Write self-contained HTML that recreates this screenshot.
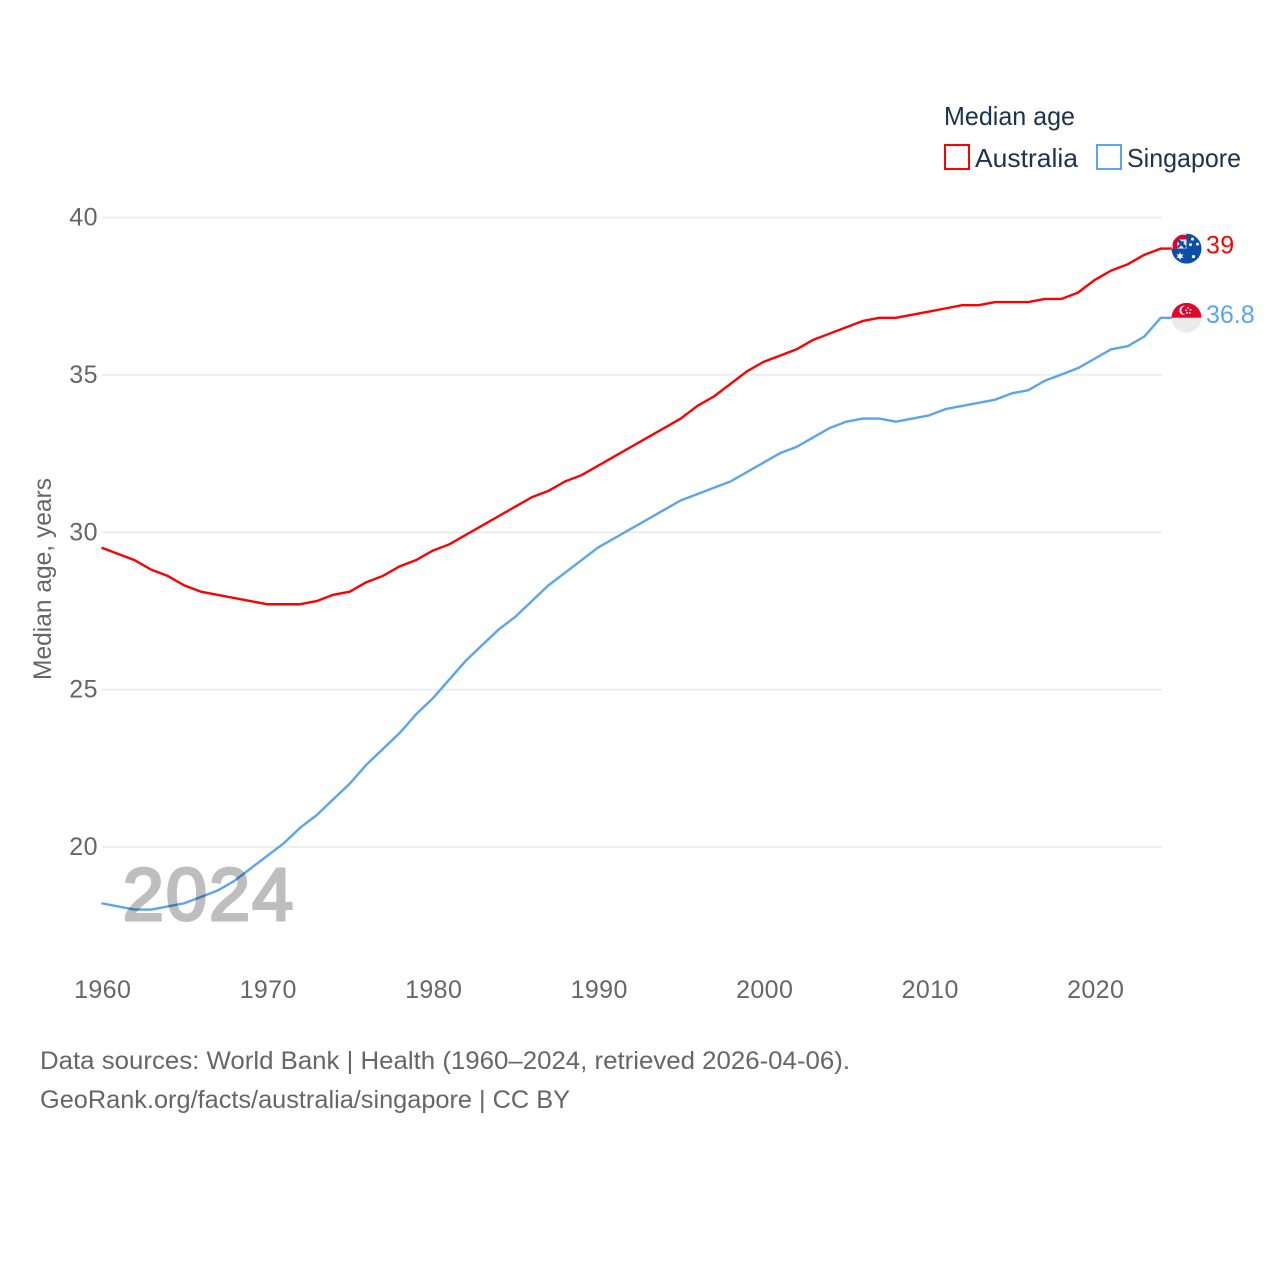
<!DOCTYPE html>
<html lang="en">
<head>
<meta charset="utf-8">
<title>Median age: Australia and Singapore</title>
<style>
html,body{margin:0;padding:0;background:#fff;width:1280px;height:1280px;overflow:hidden}
svg{display:block}
text{font-family:"Liberation Sans",sans-serif}
</style>
</head>
<body>
<svg id="chart" xmlns="http://www.w3.org/2000/svg" width="1280" height="1280" viewBox="0 0 1280 1280">
  <defs>
    <clipPath id="flag-clip"><circle cx="0" cy="0" r="15"/></clipPath>
  </defs>
  <rect width="1280" height="1280" fill="#fff"/>
  <g id="grid"></g>
  <g id="y-ticks"></g>
  <g id="x-ticks"></g>
  <g id="series"></g>
  <text x="209" y="920" text-anchor="middle" font-size="74" letter-spacing="2" fill="#000" stroke="#000" stroke-width="3" opacity="0.25">2024</text>
  <text transform="translate(51 680) rotate(-90)" font-size="25" fill="#666" textLength="202" lengthAdjust="spacingAndGlyphs">Median age, years</text>

  <text x="944" y="125" font-size="26" fill="#1b3250" textLength="131" lengthAdjust="spacingAndGlyphs">Median age</text>
  <g>
    <rect x="945" y="145" width="24" height="24" fill="none" stroke="#ff0000" stroke-width="2"/>
    <text x="975" y="167" font-size="26" fill="#1b3250" textLength="103" lengthAdjust="spacingAndGlyphs">Australia</text>
  </g>
  <g>
    <rect x="1097" y="145" width="24" height="24" fill="none" stroke="#5ba4ee" stroke-width="2"/>
    <text x="1127" y="167" font-size="26" fill="#1b3250" textLength="114" lengthAdjust="spacingAndGlyphs">Singapore</text>
  </g>

  <g id="flag-au">
    <g clip-path="url(#flag-clip)">
      <rect x="-15" y="-15" width="30" height="30" fill="#0b4ea8"/>
      <rect x="-15" y="-15" width="15" height="15" fill="#f0dfe4"/>
      <path d="M-10,-10L-1,-1" stroke="#0b4ea8" stroke-width="3"/>
      <path d="M-9,-1L-3,-7" stroke="#0b4ea8" stroke-width="2"/>
      <path d="M-15,-11.5H0M-11.5,-15V0" stroke="#e4002b" stroke-width="4.5"/>
      <path d="M-6.5,3.5L-5.5,6L-3,5.5L-4.5,7.5L-3,9.5L-5.5,9L-6.5,11.5L-7.5,9L-10,9.5L-8.5,7.5L-10,5.5L-7.5,6Z" fill="#fff"/>
      <circle cx="6" cy="-9.5" r="1.5" fill="#fff"/>
      <circle cx="11" cy="-4.5" r="1.5" fill="#fff"/>
      <circle cx="4" cy="-4" r="1.5" fill="#fff"/>
      <circle cx="7" cy="8" r="1.6" fill="#fff"/>
    </g>
  </g>
  <g id="flag-sg">
    <g clip-path="url(#flag-clip)">
      <rect x="-15" y="-15" width="30" height="15" fill="#e2062c"/>
      <rect x="-15" y="0" width="30" height="15" fill="#ececec"/>
      <circle cx="-2.5" cy="-7.5" r="4.6" fill="#fff"/>
      <circle cx="-0.8" cy="-7.5" r="4.4" fill="#e2062c"/>
      <circle cx="1.5" cy="-10" r=".9" fill="#fff"/>
      <circle cx="4" cy="-8" r=".9" fill="#fff"/>
      <circle cx="-0.5" cy="-7.5" r=".9" fill="#fff"/>
      <circle cx="0.5" cy="-5" r=".9" fill="#fff"/>
      <circle cx="3.2" cy="-5" r=".9" fill="#fff"/>
    </g>
  </g>

  <text x="40" y="1069" font-size="25" fill="#666" textLength="810" lengthAdjust="spacingAndGlyphs">Data sources: World Bank | Health (1960–2024, retrieved 2026-04-06).</text>
  <a><text x="40" y="1108" font-size="25" fill="#666" textLength="530" lengthAdjust="spacingAndGlyphs">GeoRank.org/facts/australia/singapore | CC BY</text></a>
</svg>
<script>
const startYear = 1960;
const xTickLabels = [1960, 1970, 1980, 1990, 2000, 2010, 2020];
const yTickLabels = [20, 25, 30, 35, 40];
const australiaValues = [29.5,29.3,29.1,28.8,28.6,28.3,28.1,28.0,27.9,27.8,27.7,27.7,27.7,27.8,28.0,28.1,28.4,28.6,28.9,29.1,29.4,29.6,29.9,30.2,30.5,30.8,31.1,31.3,31.6,31.8,32.1,32.4,32.7,33.0,33.3,33.6,34.0,34.3,34.7,35.1,35.4,35.6,35.8,36.1,36.3,36.5,36.7,36.8,36.8,36.9,37.0,37.1,37.2,37.2,37.3,37.3,37.3,37.4,37.4,37.6,38.0,38.3,38.5,38.8,39.0];
const singaporeValues = [18.2,18.1,18.0,18.0,18.1,18.2,18.4,18.6,18.9,19.3,19.7,20.1,20.6,21.0,21.5,22.0,22.6,23.1,23.6,24.2,24.7,25.3,25.9,26.4,26.9,27.3,27.8,28.3,28.7,29.1,29.5,29.8,30.1,30.4,30.7,31.0,31.2,31.4,31.6,31.9,32.2,32.5,32.7,33.0,33.3,33.5,33.6,33.6,33.5,33.6,33.7,33.9,34.0,34.1,34.2,34.4,34.5,34.8,35.0,35.2,35.5,35.8,35.9,36.2,36.8];

const NS = 'http://www.w3.org/2000/svg';
const xScale = year => 101.5 + (year - 1960) * 16.55;
const yScale = value => 846.6 - (value - 20) * (847 - 217.5) / 20;
const gridY = value => 847 - (value - 20) * (847 - 217.5) / 20;

function make(tag, attrs, parent, text) {
  const el = document.createElementNS(NS, tag);
  Object.keys(attrs).forEach(k => el.setAttribute(k, attrs[k]));
  if (text !== undefined) el.textContent = text;
  parent.appendChild(el);
  return el;
}

const gridGroup = document.getElementById('grid');
const yTickGroup = document.getElementById('y-ticks');
const xTickGroup = document.getElementById('x-ticks');
const seriesGroup = document.getElementById('series');

yTickLabels.forEach(tick => {
  const line = make('line', {x1: 102, x2: 1162, y1: gridY(tick), y2: gridY(tick), stroke: '#e9e9e9', 'stroke-width': 1.5}, gridGroup);
  
  
  const label = make('text', {x: 98, y: gridY(tick) + 8, 'text-anchor': 'end', 'font-size': 25, 'letter-spacing': 0.5, fill: '#666'}, yTickGroup, tick);
  
  
});

xTickLabels.forEach(tick => {
  const label = make('text', {x: xScale(tick) + 1.2, y: 998, 'text-anchor': 'middle', 'font-size': 25, 'letter-spacing': 0.4, fill: '#666'}, xTickGroup, tick);
  
  
});

function drawSeries(values, color) {
  const pts = values.map((v, i) => xScale(startYear + i).toFixed(2) + ',' + yScale(v).toFixed(2));
  const lastY = yScale(values[values.length - 1]).toFixed(2);
  pts.push('1172,' + lastY);
  return make('polyline', {points: pts.join(' '), fill: 'none', stroke: color, 'stroke-width': 2.4, 'stroke-linejoin': 'round'}, seriesGroup);
}

const australiaLine = drawSeries(australiaValues, '#ff0000');


const singaporeLine = drawSeries(singaporeValues, '#5ba4ee');



const auLast = australiaValues[australiaValues.length - 1];
const sgLast = singaporeValues[singaporeValues.length - 1];
document.getElementById('flag-au').setAttribute('transform', 'translate(1186.5 ' + yScale(auLast).toFixed(2) + ')');
document.getElementById('flag-sg').setAttribute('transform', 'translate(1186.5 ' + yScale(sgLast).toFixed(2) + ')');

const auLabel = make('text', {x: 1206, y: yScale(auLast) + 5, 'font-size': 25, 'letter-spacing': 0.3, fill: '#ff0000'}, document.getElementById('chart'), String(Number(auLast.toFixed(1))));


const sgLabel = make('text', {x: 1206, y: yScale(sgLast) + 5, 'font-size': 25, fill: '#5ba4ee'}, document.getElementById('chart'), String(Number(sgLast.toFixed(1))));


</script>
</body>
</html>
